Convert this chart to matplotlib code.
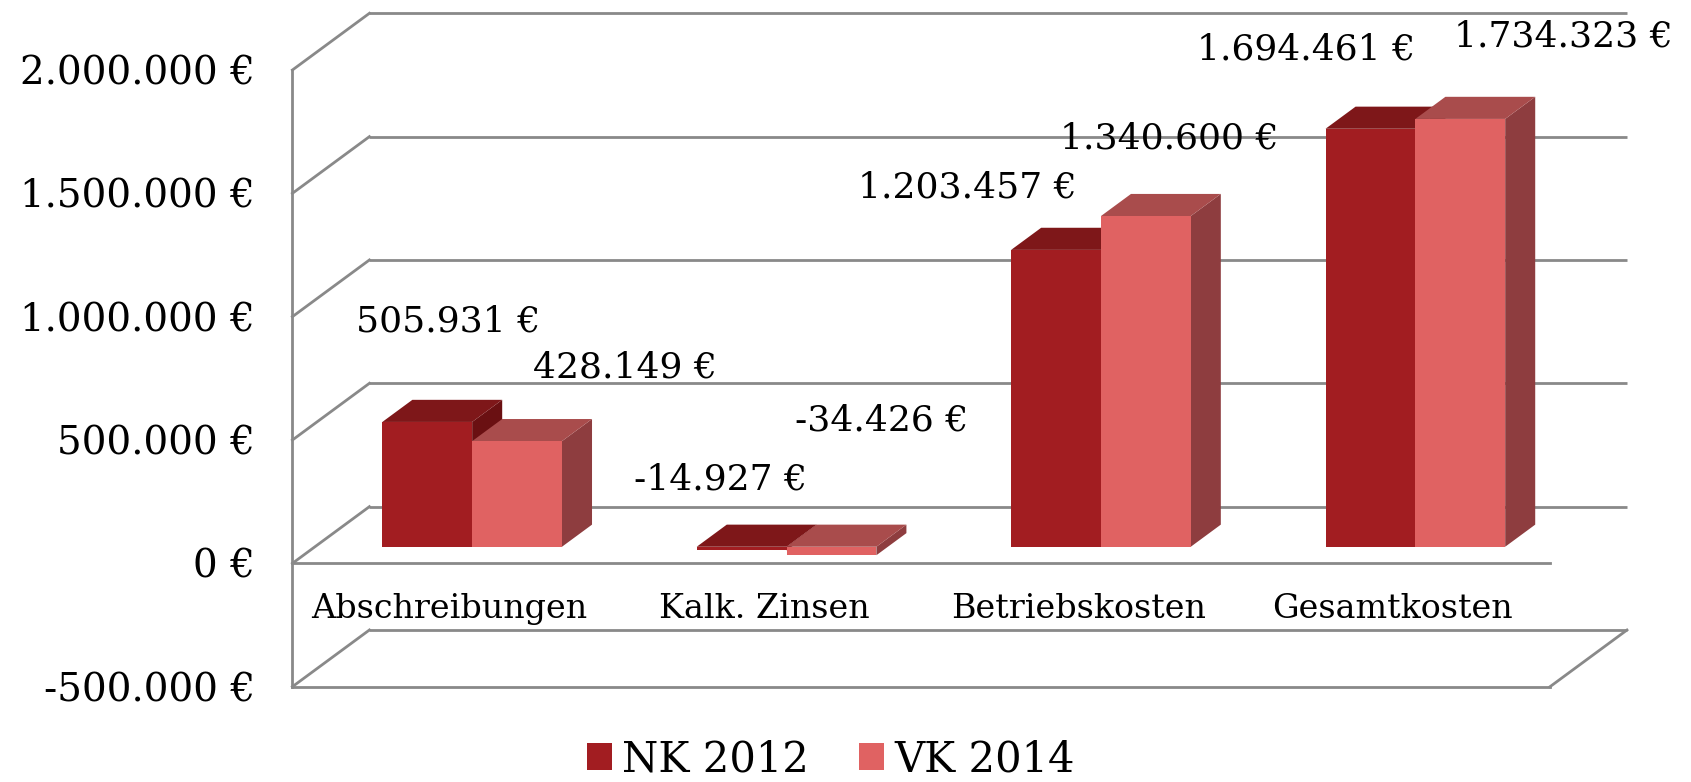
import matplotlib
matplotlib.use("Agg")
import matplotlib.pyplot as plt
from matplotlib.patches import Patch

# ---------------- data ----------------
categories = ["Abschreibungen", "Kalk. Zinsen", "Betriebskosten", "Gesamtkosten"]
series_names = ["NK 2012", "VK 2014"]
nk_2012 = [505931, -14927, 1203457, 1694461]
vk_2014 = [428149, -34426, 1340600, 1734323]
y_ticks = [-500000, 0, 500000, 1000000, 1500000, 2000000]

# ---------------- style ----------------
plt.rcParams['font.family'] = ['DejaVu Serif']
W, H, DPI = 1691, 782, 100
GRID = "#898989"
face_cols = {  # front, top, side
    0: ("#A21D21", "#7E1719", "#6A1012"),
    1: ("#E06262", "#A94C4C", "#8E3D3F"),
}
# label offsets in pixels from the front-top centre of each bar (style only)
label_off = [
    [(21, 100), (-21, 67), (-89, 62), (-64, 79)],
    [(108, 74), (50, 126), (23, 78), (103, 82)],
]


def euro(v):
    return f"{v:,}".replace(",", ".") + " €"


fig = plt.figure(figsize=(W / DPI, H / DPI), dpi=DPI)
ax = fig.add_axes([292.4 / W, (H - 686.7) / H, 1257.6 / W, 616.7 / H])
ax.set_xlim(0, len(categories))
ax.set_ylim(y_ticks[0], y_ticks[-1])
ax.patch.set_visible(False)

# depth vector (data units) for the full floor depth
dxd = 77.0 / 314.4
dyd = 56.7 / 616.7 * (y_ticks[-1] - y_ticks[0])
ncat = len(categories)

lw = 2.0
# back wall gridlines + left wall diagonals
for v in y_ticks:
    ax.plot([dxd, ncat + dxd], [v + dyd, v + dyd], color=GRID, lw=lw, clip_on=False, zorder=1,
            solid_capstyle="butt")
    ax.plot([0, dxd], [v, v + dyd], color=GRID, lw=lw, clip_on=False, zorder=1)
# floor at bottom: front edge and right diagonal
ax.plot([0, ncat], [y_ticks[0], y_ticks[0]], color=GRID, lw=lw, clip_on=False, zorder=1)
ax.plot([ncat, ncat + dxd], [y_ticks[0], y_ticks[0] + dyd], color=GRID, lw=lw, clip_on=False, zorder=1)

# spines / ticks
for s in ["top", "right"]:
    ax.spines[s].set_visible(False)
ax.spines["left"].set_color(GRID)
ax.spines["left"].set_linewidth(lw)
ax.spines["bottom"].set_position(("data", 0))
ax.spines["bottom"].set_color(GRID)
ax.spines["bottom"].set_linewidth(lw)
ax.spines["left"].set_zorder(1)
ax.spines["bottom"].set_zorder(1)

ax.set_yticks(y_ticks, [euro(v) for v in y_ticks])
ax.set_xticks([i + 0.5 for i in range(ncat)], categories)
ax.tick_params(axis="y", length=0, pad=27, labelsize=28)
ax.tick_params(axis="x", length=0, pad=21, labelsize=24)

# bars
bw = 0.2857
f0, f1 = 0.293, 0.683
series = [nk_2012, vk_2014]
z = 3
for i in range(ncat):
    for s, vals in enumerate(series):
        v = vals[i]
        x0 = i + 0.5 - bw if s == 0 else i + 0.5
        x1 = x0 + bw
        lo, hi = min(0, v), max(0, v)
        ax0, ay0 = f0 * dxd, f0 * dyd
        ax1, ay1 = f1 * dxd, f1 * dyd
        front, top, side = face_cols[s]
        # side face
        ax.fill([x1 + ax0, x1 + ax1, x1 + ax1, x1 + ax0],
                [lo + ay0, lo + ay1, hi + ay1, hi + ay0],
                color=side, lw=0, clip_on=False, zorder=z)
        # top face
        ax.fill([x0 + ax0, x1 + ax0, x1 + ax1, x0 + ax1],
                [hi + ay0, hi + ay0, hi + ay1, hi + ay1],
                color=top, lw=0, clip_on=False, zorder=z)
        # front face
        ax.fill([x0 + ax0, x1 + ax0, x1 + ax0, x0 + ax0],
                [lo + ay0, lo + ay0, hi + ay0, hi + ay0],
                color=front, lw=0, clip_on=False, zorder=z + 0.5)
        z += 1
        # data label
        ox, oy = label_off[s][i]
        ax.annotate(euro(v), xy=((x0 + x1) / 2 + ax0, hi + ay0), xytext=(ox, oy),
                    textcoords="offset pixels", ha="center", va="center",
                    fontsize=26, zorder=20, annotation_clip=False)

# legend
handles = [Patch(facecolor=face_cols[s][0], edgecolor="none") for s in range(2)]
fig.legend(handles, series_names, loc="center", bbox_to_anchor=(831 / W, 1 - 759 / H),
           ncol=2, frameon=False, fontsize=30, handlelength=0.6, handleheight=0.6,
           handletextpad=0.25, columnspacing=1.2)

fig.savefig("out.png", dpi=DPI)
